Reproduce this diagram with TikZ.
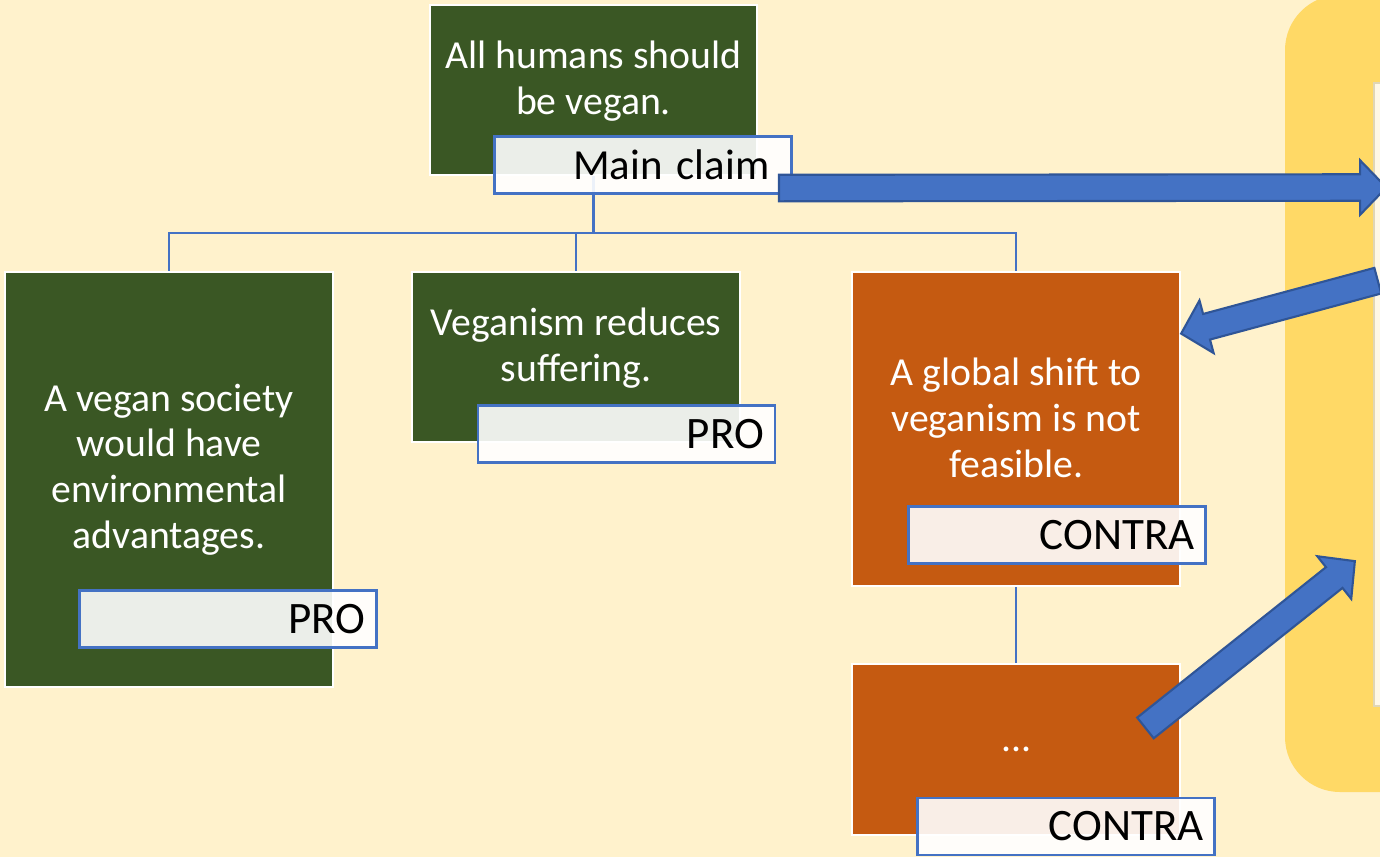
\documentclass[tikz,border=0pt]{standalone}
\usepackage{fontspec}
\setmainfont{Carlito}
\usepackage{tikz}
\usetikzlibrary{positioning, calc, shapes.arrows}

\definecolor{cream}{HTML}{FFF2CC}
\definecolor{panel}{HTML}{FFD966}
\definecolor{paper}{HTML}{FFF8E6}
\definecolor{progreen}{HTML}{3A5724}
\definecolor{conorange}{HTML}{C55A11}
\definecolor{tagblue}{HTML}{4472C4}
\definecolor{arrowedge}{HTML}{2F5597}

% block arrow from #2 to #3
\newcommand{\fatarrow}[3]{%
  \path let \p1=($(#3)-(#2)$) in
    node[fat, minimum height={veclen(\x1,\y1)}, rotate={atan2(\y1,\x1)}] (#1) at ($(#2)!0.5!(#3)$) {};}

\begin{document}
\begin{tikzpicture}
	[box/.style={draw=white, line width=0.6pt, minimum width=3.28cm, inner sep=0pt},
	 pro/.style={box, fill=progreen},
	 con/.style={box, fill=conorange},
	 claimtext/.style={text=white, align=center, font=\fontsize{11.3}{13}\selectfont},
	 tag/.style={draw=tagblue, line width=0.6pt, fill=white, fill opacity=0.9, text opacity=1,
	   minimum width=2.97cm, minimum height=0.57cm, text width=2.75cm, inner xsep=0.11cm,
	   inner ysep=0pt, align=right, font=\fontsize{12.8}{14}\selectfont},
	 tree/.style={draw=tagblue, line width=0.7pt},
	 fat/.style={single arrow, draw=arrowedge, fill=tagblue, line width=0.6pt, inner sep=0pt,
	   inner ysep=0.122cm, single arrow head extend=0.14cm, single arrow tip angle=92}]
   \useasboundingbox (0,0) rectangle (13.8,-8.57);
   \clip (0,0) rectangle (13.8,-8.57);
   \fill[cream] (0,0) rectangle (13.8,-8.57);
   \fill[panel, rounded corners=0.55cm] (12.85,0.05) rectangle (14.4,-7.92);
   \filldraw[fill=paper, draw=panel!70!black!40, line width=0.3pt] (13.74,-0.83) rectangle (14.5,-7.06);

   \node[pro, minimum height=1.70cm, minimum width=3.27cm] (claim) at (5.935,-0.90) {};
   \node[pro, minimum height=4.15cm] (pro_1) at (1.69,-4.795) {};
   \node[pro, minimum height=1.70cm, right=0.77cm of pro_1.north east, anchor=north west] (pro_2) {};
   \node[con, minimum height=3.14cm, right=1.10cm of pro_2.north east, anchor=north west] (con_1) {};
   \node[con, minimum height=1.71cm, below=0.76cm of con_1] (con_2) {};

   \draw[tree] (claim.south) -- ++(0,-0.57) coordinate (fork);
   \draw[tree] (pro_1.north) |- (fork) -| (con_1.north);
   \draw[tree] (pro_2.north) -- (pro_2.north |- fork);
   \draw[tree] (con_1.south) -- (con_2.north);

   \node[claimtext] (claim_txt) at ([yshift=0.9mm]claim.center) {All humans should\\be vegan.};
   \node[claimtext] (pro_1_txt) at ([yshift=1.0mm]pro_1.center) {A vegan society\\would have\\environmental\\advantages.};
   \node[claimtext] (pro_2_txt) at ([yshift=0.9mm]pro_2.center) {Veganism reduces\\suffering.};
   \node[claimtext] (con_1_txt) at ([yshift=1.1mm]con_1.center) {A global shift to\\veganism is not\\feasible.};
   \node[claimtext] (con_2_txt) at (con_2.center) {...};

   \node[tag, text width=2.53cm, inner xsep=0.22cm, font=\fontsize{12.2}{14}\selectfont] (claim_tag) at (6.43,-1.65) {Main claim};
   \node[tag] (pro_1_tag) at (2.28,-6.19) {PRO};
   \node[tag] (pro_2_tag) at (6.265,-4.34) {PRO};
   \node[tag] (con_1_tag) at (10.57,-5.35) {CONTRA};
   \node[tag] (con_2_tag) at (10.66,-8.265) {CONTRA};

   \coordinate (claim_out) at ([shift={(-0.2,0.065)}]claim_tag.south east);
   \coordinate (panel_a) at (13.80,-1.875);
   \coordinate (panel_b) at (13.84,-2.79);
   \coordinate (con_1_in) at ([shift={(0.06,-0.61)}]con_1.north east);
   \coordinate (con_2_out) at ([shift={(-0.41,-0.69)}]con_2.north east);
   \coordinate (panel_c) at (13.50,-5.65);
   \fatarrow{arrow_a}{claim_out}{panel_a}
   \fatarrow{arrow_b}{panel_b}{con_1_in}
   \fatarrow{arrow_c}{con_2_out}{panel_c}

\end{tikzpicture}
\end{document}
